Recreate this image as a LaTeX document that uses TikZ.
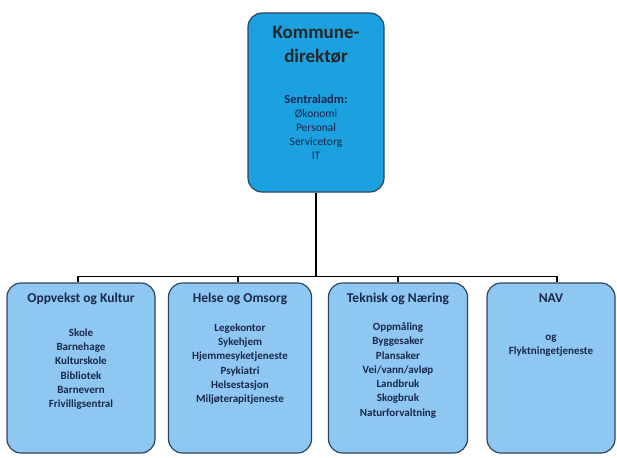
\documentclass[tikz,border=0pt]{standalone}
\usepackage{fontspec}
\setmainfont{Carlito}
\usetikzlibrary{positioning}

\definecolor{topblue}{RGB}{27,160,224}
\definecolor{unitblue}{RGB}{142,199,242}
\definecolor{edgeblue}{RGB}{45,70,95}
\definecolor{textnavy}{RGB}{25,40,75}

\tikzset{
    topbox/.style={draw=edgeblue, line width=1.2pt, fill=topblue, rounded corners=14pt,
        minimum width=136pt, minimum height=179pt, inner sep=0pt},
    unitbox/.style={draw=edgeblue, line width=1.2pt, fill=unitblue, rounded corners=14pt,
        minimum height=170pt, inner sep=0pt},
    toptitle/.style={text=black!85, align=center, font=\fontsize{19}{24}\selectfont\bfseries},
    toplist/.style={text=textnavy, align=center, font=\fontsize{11.5}{14}\selectfont, inner sep=0pt},
    unittitle/.style={text=textnavy, font=\fontsize{13.5}{15}\selectfont\bfseries},
    unitlist/.style={text=textnavy, align=center, font=\fontsize{11}{14.3}\selectfont\bfseries, inner sep=0pt},
    orgline/.style={line width=1.3pt, black}
}

\begin{document}
\begin{tikzpicture}[x=1pt,y=-1pt]
    \useasboundingbox (0,0) rectangle (617,457);

    % top box
    \node[topbox] (kd) at (316,102.5) {};
    \node[toptitle, below=10pt of kd.north] (kd-t) {Kommune-\\direktør};
    \node[toplist, below=28pt of kd-t] (kd-l) {{\fontsize{12.5}{14}\selectfont\bfseries Sentraladm:}\\Økonomi\\Personal\\Servicetorg\\IT};

    % units
    \node[unitbox, minimum width=148pt] (oppvekst) at (81,368) {};
    \node[unitbox, minimum width=143pt] (helse) at (240,368) {};
    \node[unitbox, minimum width=139pt] (teknisk) at (398,368) {};
    \node[unitbox, minimum width=128pt] (nav) at (551,368) {};

    \node[unittitle, below=7pt of oppvekst.north] (oppvekst-t) {Oppvekst og Kultur};
    \node[unitlist, below=20pt of oppvekst-t] (oppvekst-l) {Skole\\Barnehage\\Kulturskole\\Bibliotek\\Barnevern\\Frivilligsentral};

    \node[unittitle, below=7pt of helse.north] (helse-t) {Helse og Omsorg};
    \node[unitlist, below=15pt of helse-t] (helse-l) {Legekontor\\Sykehjem\\Hjemmesyketjeneste\\Psykiatri\\Helsestasjon\\Miljøterapitjeneste};

    \node[unittitle, below=7pt of teknisk.north] (teknisk-t) {Teknisk og Næring};
    \node[unitlist, below=14pt of teknisk-t] (teknisk-l) {Oppmåling\\Byggesaker\\Plansaker\\Vei/vann/avløp\\Landbruk\\Skogbruk\\Naturforvaltning};

    \node[unittitle, below=8pt of nav.north] (nav-t) {NAV};
    \node[unitlist, below=29pt of nav-t, font=\fontsize{11}{13.5}\selectfont\bfseries] (nav-l) {og\\Flyktningetjeneste};

    % connectors
    \draw[orgline] (kd.south) -- ++(0,84) coordinate (junction);
    \draw[orgline] (junction) -| ([xshift=-3pt]oppvekst.north);
    \draw[orgline] (junction) -| ([xshift=-2pt]helse.north);
    \draw[orgline] (junction) -| (teknisk.north);
    \draw[orgline] (junction) -| ([xshift=6pt]nav.north);
\end{tikzpicture}
\end{document}
